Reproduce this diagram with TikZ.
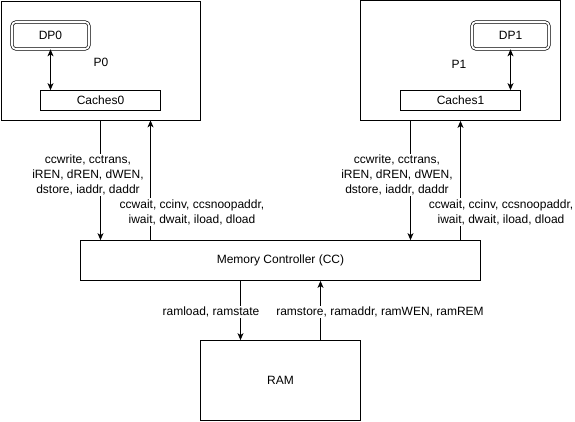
\documentclass[tikz,border=0pt]{standalone}
\usepackage{fontspec}
\setmainfont{Liberation Sans}
\usetikzlibrary{arrows.meta,calc}
\begin{document}
\begin{tikzpicture}[x=1pt,y=-1pt,
  every node/.style={font=\fontsize{12}{15}\selectfont},
  box/.style={draw,line width=0.8pt,inner sep=0pt},
  dpbox/.style={draw,line width=0.7pt,double,double distance=1.8pt,rounded corners=4pt,
    minimum width=77pt,minimum height=27pt,inner sep=0pt},
  lbl/.style={fill=white,align=center,inner sep=1pt},
  conn/.style={line width=0.8pt,-{Stealth[length=7pt,width=6pt,inset=2pt]}},
  biconn/.style={line width=0.8pt,{Stealth[length=7pt,width=6pt,inset=2pt]}-{Stealth[length=7pt,width=6pt,inset=2pt]}}]
\useasboundingbox (0,0) rectangle (575,421);
% processor 0
\node[box,minimum width=199pt,minimum height=119pt] (P0) at (100.5,60.5) {};
\node[dpbox] (DP0) at (50.5,35.5) {DP0};
\node[box,minimum width=120pt,minimum height=20pt] (C0) at (100.5,100.5) {Caches0};
\node (P0l) at (101,62) {P0};
% processor 1
\node[box,minimum width=200pt,minimum height=120pt] (P1) at (460.5,60.5) {};
\node[dpbox] (DP1) at (510.5,35.5) {DP1};
\node[box,minimum width=120pt,minimum height=20pt] (C1) at (460.5,100.5) {Caches1};
\node (P1l) at (459,64) {P1};
% controller and RAM
\node[box,minimum width=400pt,minimum height=40pt] (MC) at (280.5,260.5) {Memory Controller (CC)};
\node[box,minimum width=160pt,minimum height=80pt] (RAM) at (280.5,380.5) {RAM};
% connectors
\draw[biconn] (DP0.south) -- (DP0.south |- C0.north);
\draw[biconn] (DP1.south) -- (DP1.south |- C1.north);
\draw[conn] (P0.south) -- (P0.south |- MC.north);
\draw[conn] ([xshift=50pt]P0.south |- MC.north) -- ([xshift=50pt]P0.south);
\draw[conn] ([xshift=-50pt]P1.south) -- ([xshift=-50pt]P1.south |- MC.north);
\draw[conn] (P1.south |- MC.north) -- (P1.south);
\draw[conn] ([xshift=-40pt]MC.south) -- ([xshift=-40pt]RAM.north);
\draw[conn] ([xshift=40pt]RAM.north) -- ([xshift=40pt]MC.south);
% labels
\node[lbl] (l1) at (88,175) {ccwrite, cctrans,\\iREN, dREN, dWEN,\\dstore, iaddr, daddr};
\node[lbl] (l2) at (192,212) {ccwait, ccinv, ccsnoopaddr,\\iwait, dwait, iload, dload};
\node[lbl] (l3) at (397,175) {ccwrite, cctrans,\\iREN, dREN, dWEN,\\dstore, iaddr, daddr};
\node[lbl] (l4) at (501,212) {ccwait, ccinv, ccsnoopaddr,\\iwait, dwait, iload, dload};
\node[lbl] (l5) at (211,312) {ramload, ramstate};
\node[lbl] (l6) at (380,312) {ramstore, ramaddr, ramWEN, ramREM};
\end{tikzpicture}
\end{document}
